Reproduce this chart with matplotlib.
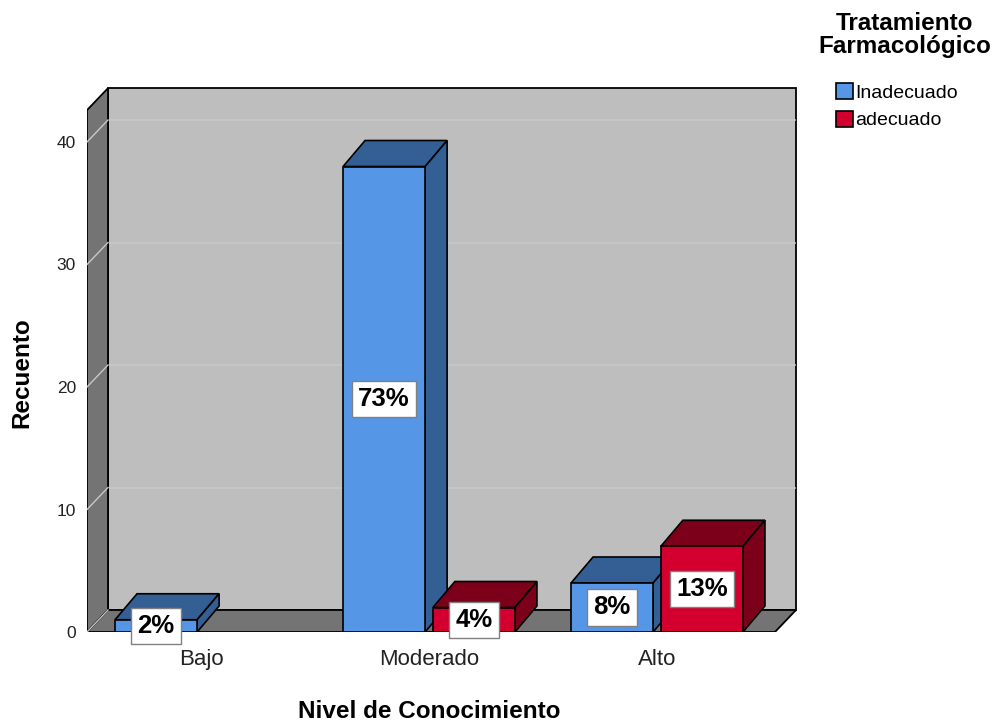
import matplotlib
matplotlib.use("Agg")
import matplotlib.pyplot as plt
from matplotlib.patches import Polygon, Rectangle, Patch

# data
niveles = ["Bajo", "Moderado", "Alto"]
series = ["Inadecuado", "adecuado"]
inadecuado = [1, 38, 4]
adecuado = [0, 2, 7]
yticks = [0, 10, 20, 30, 40]

front_col = {"Inadecuado": "#5596e6", "adecuado": "#d3002f"}
dark_col = {"Inadecuado": "#345f94", "adecuado": "#7c0019"}

plt.rcParams["font.family"] = ["Liberation Sans", "DejaVu Sans"]


def main():
    fig = plt.figure(figsize=(10, 7.22), dpi=100)
    W, H = 1000, 722
    # axes covers front plane plus depth
    ax = fig.add_axes([87 / W, 1 - 632 / H, 710 / W, 547 / H])
    ppu_x = 228.0
    ppu_y = 12.25
    xmin = -0.5
    ax.set_xlim(xmin, xmin + 710 / ppu_x)
    ax.set_ylim(0, 547 / ppu_y)
    for s in ax.spines.values():
        s.set_visible(False)

    xfront_max = xmin + 688 / ppu_x
    ytop = 42.6
    wdx, wdy = 21 / ppu_x, 22 / ppu_y   # wall depth
    bdx, bdy = 22 / ppu_x, 26 / ppu_y   # bar depth

    # walls
    ax.add_patch(Rectangle((xmin + wdx, wdy), xfront_max - xmin, ytop,
                           facecolor="#bebebe", edgecolor="black", lw=1.3, zorder=1))
    ax.add_patch(Polygon([(xmin, 0), (xmin, ytop), (xmin + wdx, ytop + wdy), (xmin + wdx, wdy)],
                         closed=True, facecolor="#747474", edgecolor="black", lw=1.3, zorder=2))
    ax.add_patch(Polygon([(xmin, 0), (xfront_max, 0), (xfront_max + wdx, wdy), (xmin + wdx, wdy)],
                         closed=True, facecolor="#747474", edgecolor="black", lw=1.3, zorder=2))
    for v in yticks:
        if v > 0:
            ax.plot([xmin + wdx, xfront_max + wdx - 0.005], [v + wdy, v + wdy],
                    color="#c8c8c8", lw=1.2, zorder=1.5)
        ax.plot([xmin, xmin + wdx], [v, v + wdy], color="#c8c8c8", lw=1.0, zorder=2.5)

    # bars
    width = 0.36
    offs = {"Inadecuado": -0.197, "adecuado": 0.197}
    total = sum(inadecuado) + sum(adecuado)
    for i, nivel in enumerate(niveles):
        for name, vals in (("Inadecuado", inadecuado), ("adecuado", adecuado)):
            h = vals[i]
            if h == 0:
                continue
            x0 = i + offs[name] - width / 2
            x1 = x0 + width
            ax.add_patch(Polygon([(x0, h), (x1, h), (x1 + bdx, h + bdy), (x0 + bdx, h + bdy)],
                                 closed=True, facecolor=dark_col[name], edgecolor="black", lw=1.2, zorder=3))
            ax.add_patch(Polygon([(x1, 0), (x1 + bdx, bdy), (x1 + bdx, h + bdy), (x1, h)],
                                 closed=True, facecolor=dark_col[name], edgecolor="black", lw=1.2, zorder=3))
            ax.add_patch(Rectangle((x0, 0), width, h, facecolor=front_col[name],
                                   edgecolor="black", lw=1.2, zorder=3))
            pct = round(100 * h / total)
            ax.text((x0 + x1) / 2, h / 2, f"{pct}%", ha="center", va="center",
                    fontsize=18.5, fontweight="bold", color="black", zorder=10,
                    bbox=dict(boxstyle="square,pad=0.24", facecolor="white", edgecolor="#808080", lw=1))

    ax.set_xticks(range(len(niveles)))
    ax.set_xticklabels(niveles, fontsize=16, color="#222222")
    ax.tick_params(axis="x", length=0, pad=12)
    ax.set_yticks(yticks)
    ax.set_yticklabels([str(v) for v in yticks], fontsize=12.5, color="#222222")
    ax.tick_params(axis="y", length=0, pad=8)

    fig.text(22 / W, 1 - 373 / H, "Recuento", rotation=90, ha="center", va="center",
             fontsize=17.5, fontweight="bold")
    fig.text(429 / W, 1 - 712 / H, "Nivel de Conocimiento", ha="center", va="center",
             fontsize=17.5, fontweight="bold")

    fig.text(905 / W, 1 - 35 / H, "Tratamiento\nFarmacológico", ha="center", va="center",
             fontsize=17.5, fontweight="bold", linespacing=1.0)
    handles = [Patch(facecolor=front_col[s], edgecolor="black", lw=1.2) for s in series]
    fig.legend(handles, series, loc="upper left", bbox_to_anchor=(836 / W, 1 - 83 / H),
               frameon=False, fontsize=14, handlelength=0.85, handleheight=0.9,
               handletextpad=0.15, labelspacing=0.45, borderpad=0, borderaxespad=0)

    fig.savefig("out.png", dpi=100)


if __name__ == "__main__":
    main()
